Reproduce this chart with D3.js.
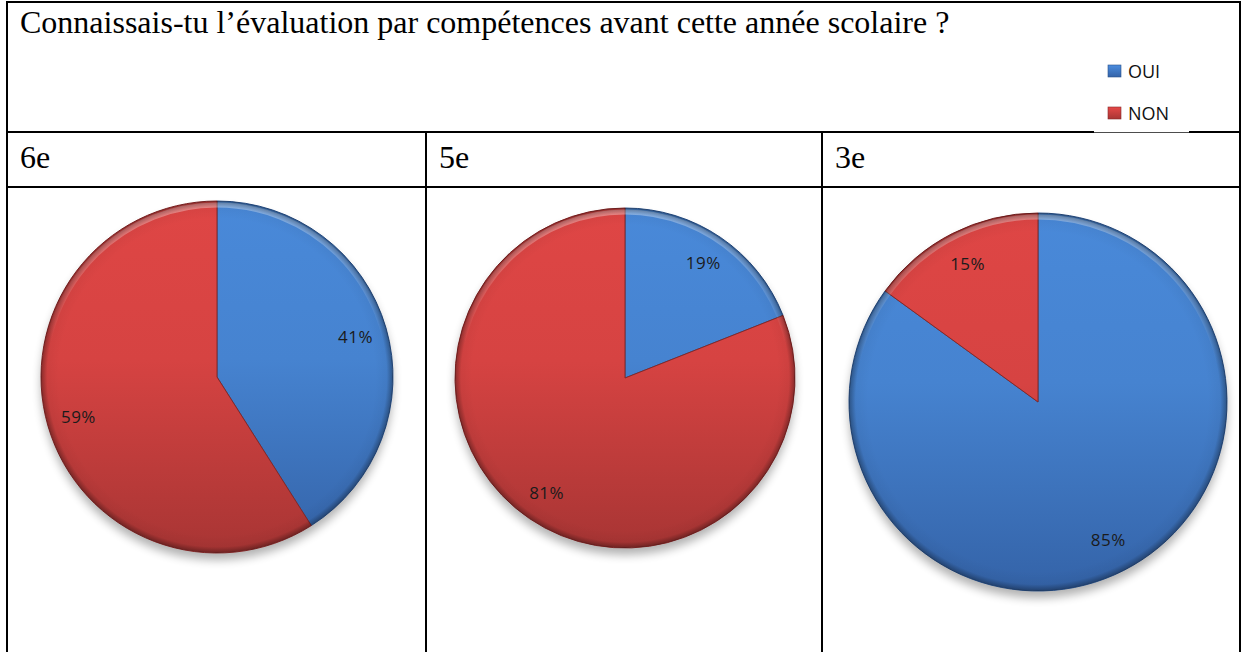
<!DOCTYPE html>
<html><head><meta charset="utf-8">
<script src="https://cdn.jsdelivr.net/npm/d3@7"></script>
<style>html,body{margin:0;padding:0;background:#fff;}svg{display:block;}</style>
</head><body>
<script>
const title = "Connaissais-tu l\u2019évaluation par compétences avant cette année scolaire ?";
const categories = ["OUI", "NON"];
const classes = ["6e", "5e", "3e"];
const oui = [41, 19, 85];
const non = [59, 81, 15];

const W = 1243, H = 652;
const svg = d3.select("body").append("svg").attr("width", W).attr("height", H);
const defs = svg.append("defs");

const xL = 7, xR = 1240, yT = 2, yTitle = 132, yHead = 187;
const colX = [xL, 426, 822, xR];

const color = d3.scaleOrdinal().domain(categories).range(["#4683d0", "#d64342"]);
const colorDark = d3.scaleOrdinal().domain(categories).range(["#3463a8", "#a83534"]);
const colorEdge = d3.scaleOrdinal().domain(categories).range(["#2a5189", "#862828"]);

const serif = "'Liberation Serif','Times New Roman',Times,serif";
svg.append("text").attr("x", 20).attr("y", 33)
  .attr("font-family", serif).attr("font-size", 32)
  .attr("fill", "#000").text(title);

classes.forEach((c, i) => {
  svg.append("text").attr("x", colX[i] + 13).attr("y", 168)
    .attr("font-family", serif).attr("font-size", 32)
    .attr("fill", "#000").text(c);
});

const pies = [
  {cx: 217, cy: 377, r: 176},
  {cx: 625, cy: 378, r: 170},
  {cx: 1038, cy: 402, r: 189}
];
const pieGen = d3.pie().sort(null).value(d => d.v);

const shf = defs.append("filter").attr("id", "shadow").attr("x", "-20%").attr("y", "-20%").attr("width", "140%").attr("height", "140%");
shf.append("feGaussianBlur").attr("stdDeviation", 5);

const rg = defs.append("radialGradient").attr("id", "edge");
rg.append("stop").attr("offset", "0.9").attr("stop-color", "#000").attr("stop-opacity", 0);
rg.append("stop").attr("offset", "0.965").attr("stop-color", "#000").attr("stop-opacity", 0.04);
rg.append("stop").attr("offset", "1").attr("stop-color", "#000").attr("stop-opacity", 0.35);

const hg = defs.append("linearGradient").attr("id", "hl").attr("x1", 0).attr("y1", 0).attr("x2", 0).attr("y2", 1);
hg.append("stop").attr("offset", 0).attr("stop-color", "#fff").attr("stop-opacity", 0.35);
hg.append("stop").attr("offset", 0.4).attr("stop-color", "#fff").attr("stop-opacity", 0);

pies.forEach((p, i) => {
  const data = [{k: categories[0], v: oui[i]}, {k: categories[1], v: non[i]}];
  const g = svg.append("g").attr("transform", `translate(${p.cx},${p.cy})`);
  categories.forEach(k => {
    const lg = defs.append("linearGradient").attr("id", `g${i}${k}`)
      .attr("gradientUnits", "userSpaceOnUse").attr("x1", 0).attr("y1", -p.r).attr("x2", 0).attr("y2", p.r);
    lg.append("stop").attr("offset", 0).attr("stop-color", d3.color(color(k)).brighter(0.12));
    lg.append("stop").attr("offset", 0.45).attr("stop-color", color(k));
    lg.append("stop").attr("offset", 1).attr("stop-color", colorDark(k));
  });
  g.append("ellipse").attr("cx", 0).attr("cy", 7).attr("rx", p.r).attr("ry", p.r).attr("fill", "#000")
    .attr("opacity", 0.3).attr("filter", "url(#shadow)");
  const arc = d3.arc().innerRadius(0).outerRadius(p.r);
  const arcs = pieGen(data);
  g.selectAll("path.slice").data(arcs).join("path").attr("class", "slice")
    .attr("d", arc).attr("fill", d => `url(#g${i}${d.data.k})`)
    .attr("stroke", d => colorEdge(d.data.k)).attr("stroke-width", 1);
  g.append("circle").attr("r", p.r - 4).attr("fill", "none").attr("stroke", "url(#hl)").attr("stroke-width", 5);
  g.append("circle").attr("r", p.r).attr("fill", "url(#edge)");
  const la = d3.arc().innerRadius(p.r * 0.82).outerRadius(p.r * 0.82);
  g.selectAll("text.lab").data(arcs).join("text").attr("class", "lab")
    .attr("transform", d => `translate(${la.centroid(d)})`)
    .attr("text-anchor", "middle").attr("dy", "0.36em")
    .attr("font-family", "'Open Sans','Noto Sans',sans-serif").attr("font-size", 17)
    .attr("letter-spacing", 0.5)
    .attr("fill", "#1b1b1b").text(d => d.data.v + "%");
});

const legend = svg.append("g");
categories.forEach((k, i) => {
  const y = 71 + i * 42;
  const lgid = `leg${k}`;
  const lg = defs.append("linearGradient").attr("id", lgid).attr("x1", 0).attr("y1", 0).attr("x2", 0).attr("y2", 1);
  lg.append("stop").attr("offset", 0).attr("stop-color", d3.color(color(k)).brighter(0.2));
  lg.append("stop").attr("offset", 1).attr("stop-color", colorDark(k));
  legend.append("rect").attr("x", 1108).attr("y", y - 6).attr("width", 13).attr("height", 12)
    .attr("fill", `url(#${lgid})`).attr("stroke", colorEdge(k)).attr("stroke-width", 0.6);
  legend.append("text").attr("x", 1128).attr("y", y + 1).attr("dy", "0.36em")
    .attr("font-family", "'Open Sans','Noto Sans',sans-serif").attr("font-size", 18)
    .attr("fill", "#111").text(k);
});

const line = (x1, y1, x2, y2, w) => svg.append("line").attr("x1", x1).attr("y1", y1).attr("x2", x2).attr("y2", y2)
  .attr("stroke", "#000").attr("stroke-width", w || 2);
line(xL - 1, yT, xR + 1, yT);
line(xL, yT, xL, H);
line(xR, yT, xR, H);
line(xL, yTitle, xR, yTitle);
line(xL, yHead, xR, yHead);
line(colX[1], yTitle, colX[1], H);
line(colX[2], yTitle, colX[2], H);
svg.append("rect").attr("x", 1094).attr("y", yTitle - 1.5).attr("width", 95).attr("height", 1.8).attr("fill", "#fff");
</script>
</body></html>
